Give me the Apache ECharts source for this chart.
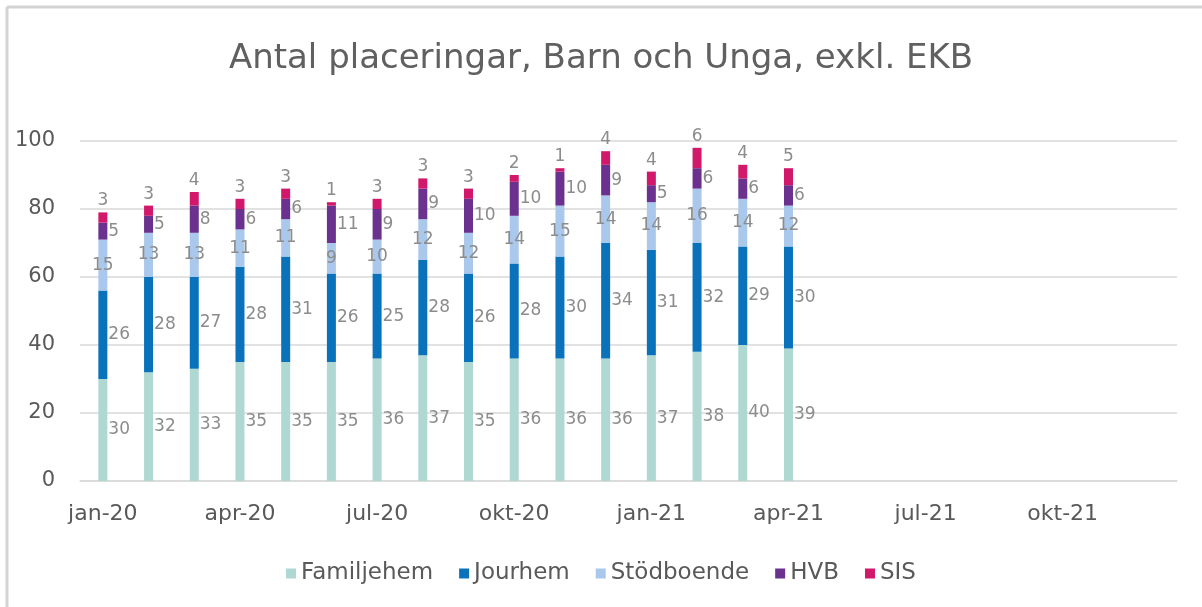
<!DOCTYPE html>
<html>
<head>
<meta charset="utf-8">
<script src="https://cdn.jsdelivr.net/npm/echarts@6/dist/echarts.min.js"></script>
<style>
  html, body { margin: 0; padding: 0; background: #ffffff; }
  #chart { width: 1202px; height: 607px; }
</style>
</head>
<body>
<div id="chart"></div>
<script>
// Months on the x axis (Jan 2020 – Dec 2021)
const months = [
  'jan-20','feb-20','mar-20','apr-20','maj-20','jun-20','jul-20','aug-20','sep-20','okt-20','nov-20','dec-20',
  'jan-21','feb-21','mar-21','apr-21','maj-21','jun-21','jul-21','aug-21','sep-21','okt-21','nov-21','dec-21'
];

// Number of placements per category (reported months only)
const familjehem = [30, 32, 33, 35, 35, 35, 36, 37, 35, 36, 36, 36, 37, 38, 40, 39];
const jourhem    = [26, 28, 27, 28, 31, 26, 25, 28, 26, 28, 30, 34, 31, 32, 29, 30];
const stodboende = [15, 13, 13, 11, 11,  9, 10, 12, 12, 14, 15, 14, 14, 16, 14, 12];
const hvb        = [ 5,  5,  8,  6,  6, 11,  9,  9, 10, 10, 10,  9,  5,  6,  6,  6];
const sis        = [ 3,  3,  4,  3,  3,  1,  3,  3,  3,  2,  1,  4,  4,  6,  4,  5];

const yTicks = [0, 20, 40, 60, 80, 100];

const FONT = 'DejaVu Sans';
const labelColor = '#8c8c8c';
const textColor = '#595959';

function padded(arr) {
  const out = arr.slice();
  while (out.length < months.length) out.push(null);
  return out;
}

function series(name, data, color, position) {
  return {
    name: name,
    type: 'bar',
    stack: 'total',
    barWidth: 9,
    data: padded(data),
    itemStyle: { color: color },
    label: {
      show: true,
      position: position,
      distance: position === 'top' ? 3 : 1,
      color: labelColor,
      fontFamily: FONT,
      fontSize: 17,
      formatter: p => (p.value == null ? '' : p.value)
    }
  };
}

const chart = echarts.init(document.getElementById('chart'), null, { renderer: 'canvas' });

chart.setOption({
  backgroundColor: '#ffffff',
  animation: false,
  title: {
    text: 'Antal placeringar, Barn och Unga, exkl. EKB',
    left: 'center',
    top: 37,
    textStyle: { fontFamily: FONT, fontSize: 34, fontWeight: 'normal', color: '#606060' }
  },
  graphic: [
    { type: 'line', shape: { x1: 7, y1: 7, x2: 1202, y2: 7 }, style: { stroke: '#d4d4d4', lineWidth: 3 } },
    { type: 'line', shape: { x1: 7, y1: 7, x2: 7, y2: 607 }, style: { stroke: '#d4d4d4', lineWidth: 3 } }
  ],
  legend: {
    bottom: 17,
    left: 'center',
    itemWidth: 10,
    itemHeight: 10,
    itemGap: 26,
    icon: 'rect',
    textStyle: { fontFamily: FONT, fontSize: 23, color: textColor, padding: [0, 0, 0, 0] },
    data: ['Familjehem', 'Jourhem', 'Stödboende', 'HVB', 'SIS']
  },
  grid: { left: 80, right: 25, top: 141, bottom: 126 },
  xAxis: {
    type: 'category',
    data: months,
    axisLine: { lineStyle: { color: '#d9d9d9', width: 1.5 } },
    axisTick: { show: false },
    axisLabel: {
      interval: 2,
      margin: 22,
      color: textColor,
      fontFamily: FONT,
      fontSize: 22
    }
  },
  yAxis: {
    type: 'value',
    min: yTicks[0],
    max: yTicks[yTicks.length - 1],
    interval: 20,
    axisLine: { show: false },
    axisTick: { show: false },
    splitLine: { lineStyle: { color: '#d9d9d9', width: 1.5 } },
    axisLabel: {
      margin: 25,
      color: textColor,
      fontFamily: FONT,
      fontSize: 21
    }
  },
  series: [
    series('Familjehem', familjehem, '#afd8d2', 'right'),
    series('Jourhem', jourhem, '#0a72bb', 'right'),
    series('Stödboende', stodboende, '#a9c8eb', 'inside'),
    series('HVB', hvb, '#6a318f', 'right'),
    series('SIS', sis, '#d1186a', 'top')
  ]
});
</script>
</body>
</html>
